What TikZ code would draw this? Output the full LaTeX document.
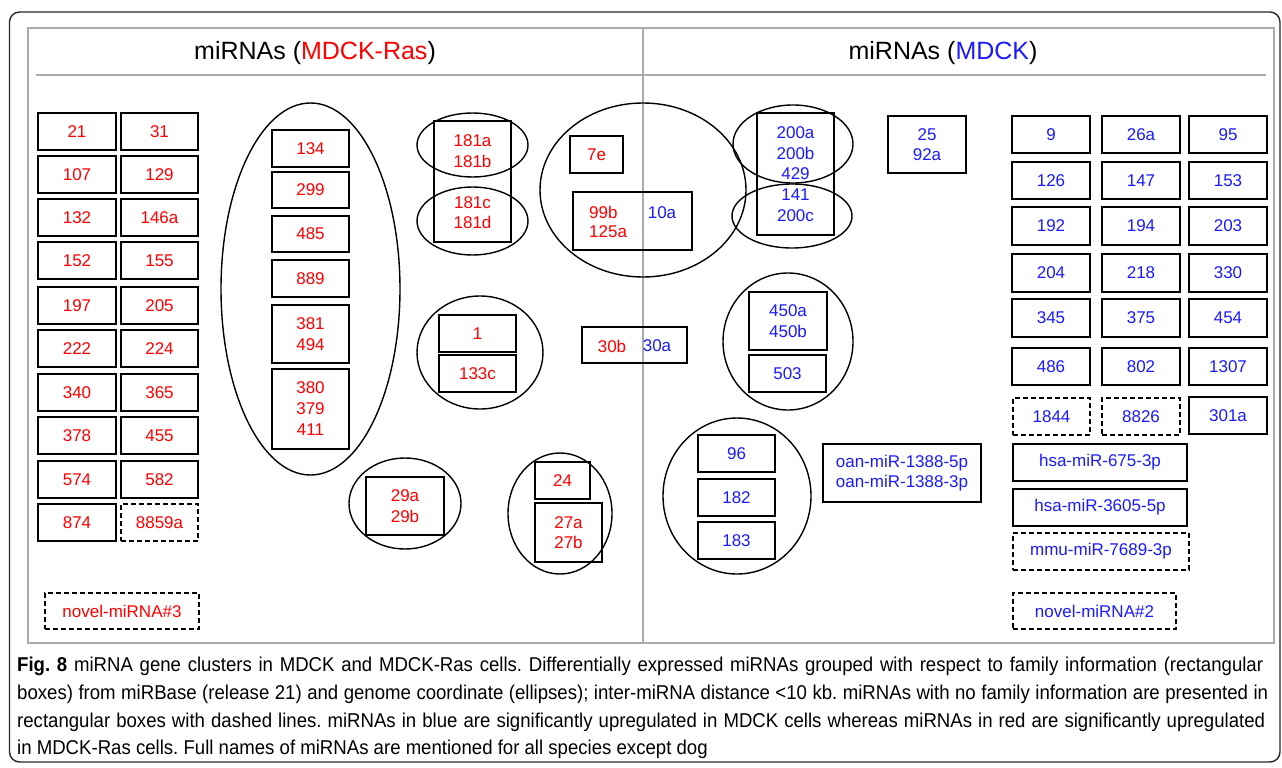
\documentclass[tikz,border=0pt]{standalone}
\usepackage{fontspec}
\setmainfont{Liberation Sans}
\newfontfamily\capfont[FakeStretch=0.93]{Liberation Sans}
\usetikzlibrary{shapes.geometric}
\definecolor{mred}{HTML}{FF0000}
\definecolor{mblue}{HTML}{1A1AFF}
\frenchspacing
\tikzset{
 box/.style={draw=black, line width=1.5pt, rectangle, inner sep=0pt, font=\fontsize{17}{20.5}\selectfont, align=center},
 rb/.style={box, text=mred},
 bb/.style={box, text=mblue},
 rbd/.style={rb, dash pattern=on 5pt off 3pt},
 bbd/.style={bb, dash pattern=on 5pt off 3pt},
 ell/.style={draw=black, line width=1.4pt, ellipse, inner sep=0pt},
 lbl/.style={inner sep=0pt, font=\fontsize{17}{20.5}\selectfont, align=center},
 grayline/.style={draw=black!33, line width=1.3pt},
 capline/.style={anchor=base west, inner sep=0pt, font=\capfont\fontsize{20}{24}\selectfont\frenchspacing},
}
\newcommand\bxx[7]{%
 \pgfmathsetmacro\cxx{(#3+#5)/2}\pgfmathsetmacro\cyy{(#4+#6)/2}%
 \pgfmathsetmacro\ww{#5-#3}\pgfmathsetmacro\hh{#6-#4}%
 \node[#1, minimum width=\ww pt, minimum height=\hh pt] (#2) at (\cxx,\cyy) {#7};}
\newcommand\elx[5]{%
 \node[ell, minimum width=#4pt, minimum height=#5pt] (#1) at (#2,#3) {};}
\begin{document}
\begin{tikzpicture}[x=1pt,y=-1pt]
\useasboundingbox (0,0) rectangle (1282,768);
% frames
\draw[line width=1.4pt, draw=black!85, rounded corners=10pt] (9.5,12) rectangle (1280,762);
\draw[grayline] (28,28) rectangle (1274,643);
\coordinate (divtop) at (643,28);
\coordinate (divbot) at (643,643);
\draw[grayline] (divtop) -- (divbot);
\coordinate (hl) at (36,75);
\coordinate (hr) at (1266,75);
\draw[grayline] (hl) -- (hr);
\node[inner sep=0pt, font=\fontsize{25}{30}\selectfont] (hL) at (315,53) {miRNAs (\textcolor{mred}{MDCK-Ras})};
\node[inner sep=0pt, font=\fontsize{25}{30}\selectfont] (hR) at (943,53) {miRNAs (\textcolor{mblue}{MDCK})};

% left grid
\bxx{rb}{L1}{38}{113}{116}{150}{21}
\bxx{rb}{L2}{38}{156}{116}{193}{107}
\bxx{rb}{L3}{38}{199}{116}{236}{132}
\bxx{rb}{L4}{38}{242}{116}{279}{152}
\bxx{rb}{L5}{38}{287}{116}{324}{197}
\bxx{rb}{L6}{38}{330}{116}{367}{222}
\bxx{rb}{L7}{38}{374}{116}{411}{340}
\bxx{rb}{L8}{38}{417}{116}{454}{378}
\bxx{rb}{L9}{38}{461}{116}{498}{574}
\bxx{rb}{L10}{38}{504}{116}{541}{874}
\bxx{rb}{M1}{121}{113}{198}{150}{31}
\bxx{rb}{M2}{121}{156}{198}{193}{129}
\bxx{rb}{M3}{121}{199}{198}{236}{146a}
\bxx{rb}{M4}{121}{242}{198}{279}{155}
\bxx{rb}{M5}{121}{287}{198}{324}{205}
\bxx{rb}{M6}{121}{330}{198}{367}{224}
\bxx{rb}{M7}{121}{374}{198}{411}{365}
\bxx{rb}{M8}{121}{417}{198}{454}{455}
\bxx{rb}{M9}{121}{461}{198}{498}{582}
\bxx{rbd}{M10}{121}{504}{198}{541}{8859a}
\bxx{rbd}{nov3}{45}{593}{199}{629}{novel-miRNA\#3}

% big ellipse
\elx{Ebig}{310.5}{289}{179}{372}
\bxx{rb}{B134}{272}{130}{349}{167}{134}
\bxx{rb}{B299}{272}{172}{349}{208}{299}
\bxx{rb}{B485}{272}{216}{349}{252}{485}
\bxx{rb}{B889}{272}{260}{349}{297}{889}
\bxx{rb}{B381}{272}{305}{349}{363}{381\\494}
\bxx{rb,font=\fontsize{17}{21}\selectfont}{B380}{272}{369}{349}{449}{380\\379\\411}

% 181 group
\bxx{box}{R181}{434}{121}{511}{242}{}
\elx{E181a}{472.5}{145}{111}{64}
\elx{E181c}{472.5}{221}{111}{68}
\node[lbl, text=mred] (T181ab) at (472.5,151) {181a\\181b};
\node[lbl, text=mred] (T181cd) at (472.5,212.5) {181c\\181d};

% 7e / 99b group
\elx{E7}{643}{190}{206}{174}
\bxx{rb}{B7e}{570}{136}{623}{173}{7e}
\bxx{box}{B99}{573}{192}{692}{250}{}
\node[lbl, text=mred, anchor=west, align=left, font=\fontsize{17}{19}\selectfont] (T99) at (589,222) {99b\\125a};
\node[lbl, text=mblue] (T10a) at (662,213) {10a};

% 1 / 133c
\elx{E1}{480}{352.5}{126}{113}
\bxx{rb}{B1}{439}{315}{516}{352}{1}
\bxx{rb}{B133}{439}{355}{516}{392}{133c}

% 30b/30a
\bxx{box}{B30}{582}{327}{687}{363}{}
\node[lbl, text=mred] (T30b) at (612,346) {30b};
\node[lbl, text=mblue] (T30a) at (657,346) {30a};

% 29
\elx{E29}{405}{503.5}{112}{91}
\bxx{rb}{B29}{366}{477}{444}{535}{29a\\29b}

% 24 / 27
\elx{E24}{560}{513.5}{104}{121}
\bxx{rb}{B24}{535}{462}{590}{499}{24}
\bxx{rb}{B27}{535}{503}{602}{562}{27a\\27b}

% 200 group
\bxx{bb,font=\fontsize{17}{20.7}\selectfont}{R200}{757}{113}{834}{235}{200a\\200b\\429\\141\\200c}
\elx{E200a}{793}{144}{120}{78}
\elx{E200c}{792}{216}{120}{64}
\bxx{bb}{B25}{888}{116}{966}{173}{25\\92a}

% 450 group
\elx{E450}{788}{341.5}{130}{137}
\bxx{bb}{B450}{749}{292}{827}{350}{450a\\450b}
\bxx{bb}{B503}{749}{355}{826}{392}{503}

% 96 group
\elx{E96}{737}{496}{148}{156}
\bxx{bb}{B96}{698}{435}{775}{472}{96}
\bxx{bb}{B182}{698}{479}{775}{516}{182}
\bxx{bb}{B183}{698}{522}{775}{559}{183}

\bxx{bb}{Boan}{823}{444}{981}{502}{oan-miR-1388-5p\\oan-miR-1388-3p}

% right grid
\bxx{bb}{P1}{1012}{116}{1090}{153}{9}
\bxx{bb}{P2}{1012}{162}{1090}{199}{126}
\bxx{bb}{P3}{1012}{207}{1090}{245}{192}
\bxx{bb}{P4}{1012}{254}{1090}{292}{204}
\bxx{bb}{P5}{1012}{299}{1090}{337}{345}
\bxx{bb}{P6}{1012}{348}{1090}{385}{486}
\bxx{bbd}{P7}{1013}{398}{1090}{435}{1844}
\bxx{bb}{Q1}{1102}{116}{1180}{153}{26a}
\bxx{bb}{Q2}{1102}{162}{1180}{199}{147}
\bxx{bb}{Q3}{1102}{207}{1180}{245}{194}
\bxx{bb}{Q4}{1102}{254}{1180}{292}{218}
\bxx{bb}{Q5}{1102}{299}{1180}{337}{375}
\bxx{bb}{Q6}{1102}{348}{1180}{385}{802}
\bxx{bbd}{Q7}{1102}{398}{1180}{435}{8826}
\bxx{bb}{S1}{1189}{116}{1267}{153}{95}
\bxx{bb}{S2}{1189}{162}{1267}{199}{153}
\bxx{bb}{S3}{1189}{207}{1267}{245}{203}
\bxx{bb}{S4}{1189}{254}{1267}{292}{330}
\bxx{bb}{S5}{1189}{299}{1267}{337}{454}
\bxx{bb}{S6}{1189}{348}{1267}{385}{1307}
\bxx{bb}{S7}{1189}{397}{1267}{434}{301a}
\bxx{bb}{H675}{1013}{444}{1187}{481}{hsa-miR-675-3p}
\bxx{bb}{H3605}{1013}{489}{1187}{526}{hsa-miR-3605-5p}
\bxx{bbd}{M7689}{1013}{533}{1189}{570}{mmu-miR-7689-3p}
\bxx{bbd}{nov2}{1013}{593}{1176}{629}{novel-miRNA\#2}

% caption
\node[capline] (cap1) at (17,671) {\makebox[1246pt][s]{\textbf{Fig. 8} miRNA gene clusters in MDCK and MDCK-Ras cells. Differentially expressed miRNAs grouped with respect to family information (rectangular}};
\node[capline] (cap2) at (17,699) {\makebox[1251pt][s]{boxes) from miRBase (release 21) and genome coordinate (ellipses); inter-miRNA distance <10 kb. miRNAs with no family information are presented in}};
\node[capline] (cap3) at (17,727) {\makebox[1248pt][s]{rectangular boxes with dashed lines. miRNAs in blue are significantly upregulated in MDCK cells whereas miRNAs in red are significantly upregulated}};
\node[capline] (cap4) at (17,754) {in MDCK-Ras cells. Full names of miRNAs are mentioned for all species except dog};
\end{tikzpicture}
\end{document}
